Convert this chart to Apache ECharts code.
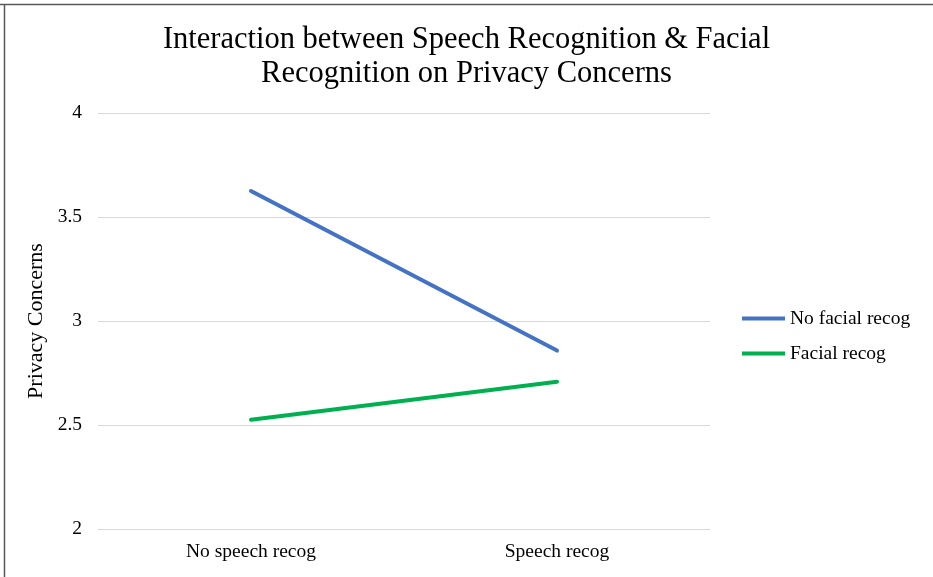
<!DOCTYPE html>
<html>
<head>
<meta charset="utf-8">
<script src="https://cdn.jsdelivr.net/npm/echarts@6/dist/echarts.min.js"></script>
<style>
html,body{margin:0;padding:0;background:#fff;}
#chart{width:933px;height:577px;}
</style>
</head>
<body>
<div id="chart"></div>
<script>
const categories = ["No speech recog", "Speech recog"];
const noFacial = [3.625, 2.858];
const facial = [2.525, 2.708];
const yTicks = [2, 2.5, 3, 3.5, 4];

const serif = "'Liberation Serif', 'Times New Roman', serif";
const chart = echarts.init(document.getElementById('chart'));
chart.setOption({
  animation: false,
  backgroundColor: '#fff',
  title: {
    text: 'Interaction between Speech Recognition & Facial\nRecognition on Privacy Concerns',
    left: 'center',
    top: 18,
    textStyle: { fontFamily: serif, fontSize: 30.5, fontWeight: 'normal', color: '#000', lineHeight: 34 }
  },
  graphic: [
    { type: 'line', shape: { x1: 0, y1: 4.5, x2: 933, y2: 4.5 }, style: { stroke: '#595959', lineWidth: 1.5 } },
    { type: 'line', shape: { x1: 4.5, y1: 4, x2: 4.5, y2: 577 }, style: { stroke: '#595959', lineWidth: 1.5 } }
  ],
  legend: {
    orient: 'vertical',
    left: 737,
    top: 303,
    icon: 'rect',
    itemWidth: 43,
    itemHeight: 4,
    itemGap: 14,
    textStyle: { fontFamily: serif, fontSize: 19.5, color: '#000', lineHeight: 21 },
    data: ['No facial recog', 'Facial recog']
  },
  grid: { left: 98, right: 223, top: 113, bottom: 48 },
  xAxis: {
    type: 'category',
    data: categories,
    boundaryGap: true,
    axisLine: { show: true, lineStyle: { color: '#d9d9d9', width: 1 } },
    axisTick: { show: false },
    axisLabel: { fontFamily: serif, fontSize: 19.5, color: '#000', margin: 13 }
  },
  yAxis: {
    type: 'value',
    min: yTicks[0],
    max: yTicks[yTicks.length - 1],
    interval: 0.5,
    name: 'Privacy Concerns',
    nameLocation: 'middle',
    nameGap: 45,
    nameTextStyle: { fontFamily: serif, fontSize: 22, color: '#000' },
    axisLine: { show: false },
    axisTick: { show: false },
    splitLine: { lineStyle: { color: '#d9d9d9', width: 1 } },
    axisLabel: { fontFamily: serif, fontSize: 19.5, color: '#000', margin: 16, padding: [5, 0, 0, 0] }
  },
  series: [
    { name: 'No facial recog', type: 'line', data: noFacial, symbol: 'none', lineStyle: { color: '#4472C4', width: 4, cap: 'round' }, itemStyle: { color: '#4472C4' } },
    { name: 'Facial recog', type: 'line', data: facial, symbol: 'none', lineStyle: { color: '#00B050', width: 4, cap: 'round' }, itemStyle: { color: '#00B050' } }
  ]
});
</script>
</body>
</html>
